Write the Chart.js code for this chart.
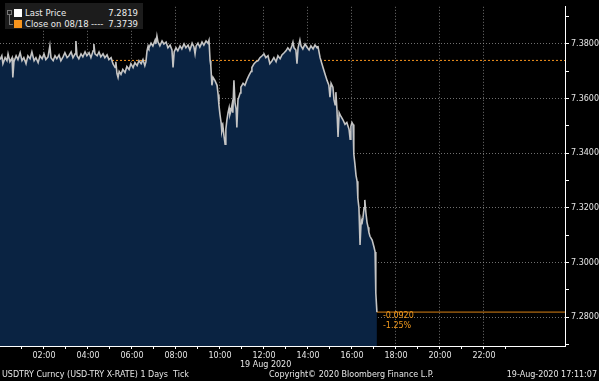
<!DOCTYPE html>
<html>
<head>
<meta charset="utf-8">
<script src="https://cdn.jsdelivr.net/npm/chart.js@4.4.0/dist/chart.umd.min.js"></script>
<style>
  html, body { margin: 0; padding: 0; background: #000; }
  #wrap { position: relative; width: 599px; height: 381px; overflow: hidden; font-family: 'DejaVu Sans', sans-serif; color: #e6e6e6; }
  #wrap canvas { position: absolute; left: 0; top: 0; }
  .txt { position: absolute; font-size: 8px; line-height: 10px; white-space: nowrap; }
  #legend { position: absolute; left: 5px; top: 3px; width: 138px; height: 26px; background: #1c1c1c; }
  .sq { position: absolute; width: 8px; height: 8px; }
  .lg { position: absolute; font-size: 8.5px; line-height: 10px; white-space: nowrap; color: #ececec; }
  .orange { color: #f39a1e; }
</style>
</head>
<body>
<div id="wrap">
  <canvas id="chart" width="599" height="381"></canvas>

  <div id="legend">
    <div style="position:absolute;left:2px;top:7px;width:3px;height:3px;border:1px solid #777;"></div>
    <div style="position:absolute;left:4px;top:12px;width:1px;height:9px;background:#777;"></div>
    <div style="position:absolute;left:4px;top:21px;width:4px;height:1px;background:#777;"></div>
    <div class="sq" style="left:9px;top:6px;background:#fff;"></div>
    <div class="sq" style="left:9px;top:17px;background:#f7941d;"></div>
    <div class="lg" style="left:20px;top:5px;">Last Price</div>
    <div class="lg" id="lastVal" style="right:5px;top:5px;"></div>
    <div class="lg" style="left:20px;top:16px;">Close on 08/18</div>
    <div class="lg" style="left:86px;top:16px;">----</div>
    <div class="lg" id="closeVal" style="right:5px;top:16px;"></div>
  </div>

  <div class="txt orange" id="chg"></div>
  <div class="txt orange" id="pct"></div>

  <div class="txt" style="left:240px;top:360px;">19 Aug 2020</div>
  <div class="txt" style="left:2px;top:370px;">USDTRY Curncy (USD-TRY X-RATE) 1 Days&nbsp;&nbsp;Tick</div>
  <div class="txt" style="left:269px;top:370px;">Copyright© 2020 Bloomberg Finance L.P.</div>
  <div class="txt" style="right:2px;top:370px;">19-Aug-2020 17:11:07</div>
</div>

<script>
// minutes after midnight, 19 Aug 2020
const minutes = [
  0,5,8,14,19,22,27,33,35,38,44,49,55,60,65,71,76,82,87,93,98,104,109,115,120,125,131,136,139,145,
  150,155,161,166,172,177,183,188,194,199,205,207,210,215,221,226,232,237,243,248,254,256,259,265,270,275,281,286,292,297,
  303,308,314,316,319,322,325,330,335,341,346,352,357,363,368,374,379,385,390,395,398,401,404,
  406,412,417,423,425,428,431,436,442,447,453,458,464,469,472,475,480,485,491,496,502,507,513,518,524,529,532,535,540,545,551,556,562,567,570,
  573,575,578,581,586,592,595,597,600,603,605,608,611,614,616,619,622,625,627,630,633,635,638,641,644,646,649,655,657,663,668,674,679,685,687,693,698,704,709,715,720,725,731,
  736,742,747,753,758,764,769,775,780,785,791,796,799,802,807,810,813,818,821,826,832,837,843,848,854,859,865,867,
  873,878,881,886,892,897,900,903,908,911,914,916,919,922,925,930,935,941,946,952,955,957,960,963,965,968,971,974,976,979,
  982,985,987,990,993,995,998,1001,1004,1006,1009,1015,1020,1023,1025,1028
];

// USD-TRY last price at each tick
const prices = [
  7.3742,7.3756,7.3727,7.3749,7.3738,7.3763,7.3734,7.3749,7.3677,7.3734,7.3756,7.3742,7.3767,7.3738,7.3749,7.3727,7.3756,7.3745,7.3770,7.3738,7.3749,7.3731,7.3756,7.3745,7.3763,7.3742,7.3752,7.3792,7.3749,7.3738,
  7.3756,7.3745,7.3759,7.3738,7.3752,7.3767,7.3749,7.3756,7.3770,7.3749,7.3763,7.3810,7.3756,7.3745,7.3763,7.3752,7.3770,7.3756,7.3767,7.3749,7.3774,7.3799,7.3763,7.3756,7.3770,7.3752,7.3763,7.3749,7.3759,7.3742,
  7.3749,7.3727,7.3713,7.3734,7.3691,7.3677,7.3699,7.3688,7.3706,7.3695,7.3717,7.3706,7.3727,7.3713,7.3731,7.3720,7.3738,7.3727,7.3742,7.3720,7.3734,7.3774,7.3792,
  7.3785,7.3802,7.3792,7.3813,7.3799,7.3828,7.3806,7.3792,7.3810,7.3799,7.3806,7.3785,7.3795,7.3777,7.3713,7.3770,7.3785,7.3774,7.3792,7.3781,7.3799,7.3785,7.3795,7.3777,7.3802,7.3788,7.3763,7.3792,7.3802,7.3788,7.3806,7.3795,7.3810,7.3802,7.3813,
  7.3738,7.3720,7.3648,7.3677,7.3666,7.3648,7.3613,7.3577,7.3541,7.3512,7.3480,7.3498,7.3462,7.3433,7.3487,7.3523,7.3548,7.3566,7.3541,7.3555,7.3577,7.3548,7.3666,7.3584,7.3562,7.3494,7.3595,7.3620,7.3641,7.3655,7.3648,7.3670,7.3684,7.3699,7.3713,7.3727,7.3734,7.3738,7.3749,7.3756,7.3763,7.3749,7.3756,
  7.3727,7.3738,7.3749,7.3734,7.3756,7.3745,7.3759,7.3767,7.3774,7.3785,7.3774,7.3792,7.3806,7.3785,7.3777,7.3727,7.3785,7.3813,7.3792,7.3781,7.3799,7.3788,7.3777,7.3792,7.3781,7.3795,7.3785,7.3792,
  7.3749,7.3727,7.3713,7.3691,7.3666,7.3648,7.3605,7.3655,7.3641,7.3595,7.3577,7.3623,7.3559,7.3459,7.3548,7.3534,7.3523,7.3505,7.3512,7.3487,7.3451,7.3498,7.3512,7.3505,7.3397,7.3361,7.3319,7.3297,7.3236,7.3200,
  7.3064,7.3154,7.3140,7.3164,7.3200,7.3229,7.3182,7.3147,7.3129,7.3111,7.3096,7.3082,7.3057,7.3039,7.2889,7.2819
];

const lastPrice = 7.2819;
const prevClose = 7.3739;            // close on 08/18
const hourTicks = [1,2,3,4,5,6,7,8,9,10,11,12,13,14,15,16,17,18,19,20,21,22,23];
const hourLabels = [2,4,6,8,10,12,14,16,18,20,22];
const priceTicks = [7.27,7.28,7.29,7.30,7.31,7.32,7.33,7.34,7.35,7.36,7.37,7.38,7.39];
const priceLabels = [7.28,7.30,7.32,7.34,7.36,7.38];

const xMin = 0, xMax = 1541;
const yMin = 7.2695, yMax = 7.3935;
const lastMinute = minutes[minutes.length - 1];

Chart.defaults.font.family = "'DejaVu Sans', sans-serif";
Chart.defaults.font.size = 8;

const isLabelledHour = v => hourLabels.includes(Math.round(v / 60));
const isLabelledPrice = v => priceLabels.some(p => Math.abs(p - v) < 1e-6);
const gridGrey = 'rgba(160,160,160,0.7)';

// places the change / percent notes next to the last tick
const notesPlugin = {
  id: 'notes',
  afterRender(chart) {
    const xs = chart.scales.x, ys = chart.scales.y;
    const px = xs.getPixelForValue(lastMinute) + 6;
    const py = ys.getPixelForValue(lastPrice);
    const diff = lastPrice - prevClose;
    const chg = document.getElementById('chg');
    const pct = document.getElementById('pct');
    chg.textContent = diff.toFixed(4);
    pct.textContent = (diff / prevClose * 100).toFixed(2) + '%';
    chg.style.left = px + 'px'; chg.style.top = (py - 1) + 'px';
    pct.style.left = px + 'px'; pct.style.top = (py + 9) + 'px';
  }
};

document.getElementById('lastVal').textContent = lastPrice.toFixed(4);
document.getElementById('closeVal').textContent = prevClose.toFixed(4);

new Chart(document.getElementById('chart'), {
  type: 'line',
  data: {
    datasets: [
      {
        label: 'Last Price',
        data: minutes.map((m, i) => ({ x: m, y: prices[i] })),
        borderColor: '#c4c4c4',
        borderWidth: 1.6,
        backgroundColor: '#0a2342',
        fill: 'start',
        pointRadius: 0,
        tension: 0
      },
      {
        label: 'Close on 08/18',
        data: [{ x: xMin, y: prevClose }, { x: xMax, y: prevClose }],
        borderColor: '#f7941d',
        borderWidth: 1,
        borderDash: [2, 2],
        pointRadius: 0,
        fill: false
      },
      {
        label: 'last',
        data: [{ x: lastMinute, y: lastPrice }, { x: xMax, y: lastPrice }],
        borderColor: '#d98214',
        borderWidth: 1,
        pointRadius: 0,
        fill: false
      }
    ]
  },
  options: {
    responsive: false,
    animation: false,
    layout: { padding: 0 },
    plugins: {
      legend: { display: false },
      tooltip: { enabled: false }
    },
    scales: {
      x: {
        type: 'linear',
        min: xMin,
        max: xMax,
        afterBuildTicks: s => { s.ticks = hourTicks.map(h => ({ value: h * 60 })); },
        afterFit: s => { s.height = 35; },
        border: { display: true, color: '#ffffff', width: 1, dash: [1, 2] },
        grid: {
          color: c => (c.tick && isLabelledHour(c.tick.value)) ? gridGrey : 'rgba(0,0,0,0)',
          lineWidth: 1,
          drawTicks: true,
          tickLength: 3,
          tickColor: '#ffffff',
          tickBorderDash: [0, 0]
        },
        ticks: {
          autoSkip: false,
          maxRotation: 0,
          padding: 2,
          color: '#e6e6e6',
          callback: v => isLabelledHour(v) ? String(Math.round(v / 60)).padStart(2, '0') + ':00' : ''
        }
      },
      y: {
        position: 'right',
        min: yMin,
        max: yMax,
        afterBuildTicks: s => { s.ticks = priceTicks.map(v => ({ value: v })); },
        afterFit: s => { s.width = 34; },
        border: { display: true, color: '#ffffff', width: 1, dash: [1, 2] },
        grid: {
          color: c => (c.tick && isLabelledPrice(c.tick.value)) ? gridGrey : 'rgba(0,0,0,0)',
          lineWidth: 1,
          drawTicks: true,
          tickLength: 4,
          tickColor: '#ffffff',
          tickBorderDash: [0, 0]
        },
        ticks: {
          padding: 2,
          color: '#e6e6e6',
          callback: v => isLabelledPrice(v) ? v.toFixed(4) : ''
        }
      }
    }
  },
  plugins: [notesPlugin]
});
</script>
</body>
</html>
